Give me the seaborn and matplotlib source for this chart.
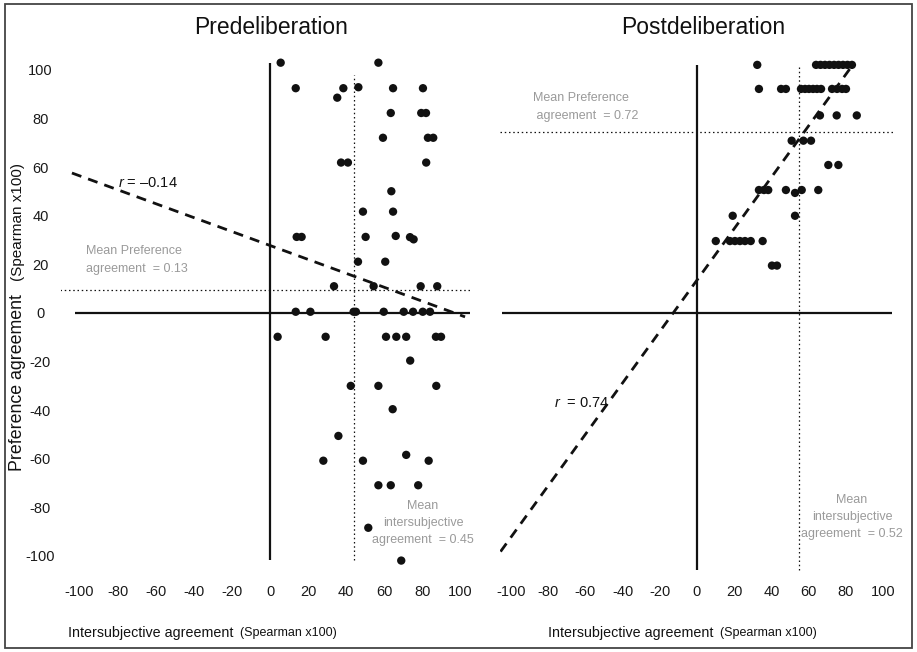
import numpy as np
import pandas as pd
import matplotlib
matplotlib.use("Agg")
import matplotlib.pyplot as plt
from matplotlib.patches import Rectangle
import seaborn as sns

# ---------------- data ----------------
pre_x = [5.6, 56.9, 13.5, 38.5, 46.4, 64.6, 80.3, 35.3, 63.4, 79.4, 81.9, 59.3,
         82.9, 85.7, 37.3, 40.9, 82.0, 63.7, 48.8, 64.6, 14.0, 16.6, 50.2, 66.0,
         73.5, 75.4, 46.2, 60.5, 33.6, 54.4, 79.1, 87.8,
         13.5, 21.2, 43.9, 45.1, 59.7, 70.2, 75.1, 80.2, 84.0,
         4.0, 29.2, 60.9, 66.3, 71.5, 87.1, 89.8,
         73.6, 42.4, 56.9, 87.3, 64.4, 35.9, 71.5, 28.0, 48.8, 83.3,
         56.9, 63.4, 77.8, 51.6, 68.9]
pre_y = [103, 103, 92.5, 92.5, 92.9, 92.5, 92.5, 88.6, 82.3, 82.3, 82.3, 72.1,
         72.1, 72.1, 61.9, 61.9, 61.9, 50.1, 41.7, 41.7, 31.3, 31.3, 31.3, 31.7,
         31.2, 30.3, 21.1, 21.1, 11.0, 11.0, 11.0, 11.0,
         0.5, 0.5, 0.5, 0.5, 0.5, 0.5, 0.5, 0.5, 0.5,
         -9.8, -9.8, -9.8, -9.8, -9.8, -9.8, -9.8,
         -19.6, -30.0, -30.0, -30.0, -39.6, -50.6, -58.4, -60.8, -60.8, -60.8,
         -70.9, -70.9, -70.9, -88.4, -101.9]

post_x = [32.4, 64.0, 66.4, 68.8, 71.2, 73.7, 76.1, 78.5, 80.9, 83.3,
          33.3, 45.2, 47.8, 55.9, 58.1, 60.2, 62.4, 64.5, 66.7, 72.6, 75.3, 78.0, 80.1,
          66.1, 75.1, 85.9,
          50.9, 57.2, 61.3,
          70.6, 76.0,
          33.3, 36.0, 38.3, 47.8, 52.7, 56.3, 65.2,
          19.2, 52.7,
          10.1, 17.7, 20.4, 23.1, 25.8, 28.9, 35.3,
          40.3, 43.0]
post_y = [102.1] * 10 + [92.2] * 13 + [81.3] * 3 + [70.9] * 3 + [60.9] * 2 + \
         [50.6, 50.6, 50.6, 50.6, 49.4, 50.6, 50.6] + [40.0] * 2 + [29.6] * 7 + [19.5] * 2

pre_fit_x = [-104.0, 102.4]
pre_fit_y = [57.6, -1.6]
post_fit_x = [-105.6, 82.3]
post_fit_y = [-98.2, 100.6]

pre_mean_x, pre_mean_y = 43.9, 9.5
post_mean_x, post_mean_y = 54.6, 74.6

tick_vals = list(range(-100, 101, 20))
tick_labels = [str(v) for v in tick_vals]

titles = ["Predeliberation", "Postdeliberation"]

# ---------------- style ----------------
sns.set_theme(style="white")
NARROW = ["Liberation Sans Narrow", "Liberation Sans", "DejaVu Sans"]
plt.rcParams["font.family"] = NARROW
plt.rcParams["mathtext.fontset"] = "custom"
plt.rcParams["mathtext.it"] = "Liberation Sans:italic"
plt.rcParams["mathtext.rm"] = "Liberation Sans"

W, H = 917, 652
fig = plt.figure(figsize=(W / 100, H / 100), dpi=100)
fig.patch.set_facecolor("white")


def rect(px0, px1, py_top, py_bot):
    return [px0 / W, (H - py_bot) / H, (px1 - px0) / W, (py_bot - py_top) / H]


ax1 = fig.add_axes(rect(60.5, 470.0, 55.4, 575.4))
ax2 = fig.add_axes(rect(499.8, 895.1, 55.4, 575.4))
ax1.set_xlim(-110, 105)
ax2.set_xlim(-106, 106.5)
for ax in (ax1, ax2):
    ax.set_ylim(-108, 106)
    for s in ax.spines.values():
        s.set_visible(False)
    ax.set_facecolor("none")
    ax.set_xticks(tick_vals, tick_labels)
    ax.tick_params(axis="x", length=0, pad=7, labelsize=10.5, colors="#1a1a1a")
    ax.grid(False)

ax1.set_yticks(tick_vals, tick_labels)
for lbl in ax1.get_yticklabels():
    lbl.set_horizontalalignment("center")
ax1.tick_params(axis="y", length=0, pad=14.5, labelsize=10.5, colors="#1a1a1a")
ax2.set_yticks([])

axis_kw = dict(color="#111111", lw=1.6, zorder=1)
dot_kw = dict(color="#111111", lw=0.9, linestyles=(0, (1.2, 2.2)), zorder=1)
dash_kw = dict(color="#111111", lw=2.0, linestyle=(0, (3.6, 2.6)), zorder=3)

# left panel
ax1.vlines(0, -101.6, 103, **axis_kw)
ax1.hlines(0, -102.4, 105, **axis_kw)
ax1.hlines(pre_mean_y, -110, 105, **dot_kw)
ax1.vlines(pre_mean_x, -101.6, 98, **dot_kw)
sns.scatterplot(x=pre_x, y=pre_y, ax=ax1, color="#111111", s=36,
                edgecolor="none", linewidth=0, zorder=4)
ax1.plot(pre_fit_x, pre_fit_y, **dash_kw)

# right panel
ax2.vlines(0, -105.8, 102, **axis_kw)
ax2.hlines(0, -104.8, 104.8, **axis_kw)
ax2.hlines(post_mean_y, -106, 106.5, **dot_kw)
ax2.vlines(post_mean_x, -105.8, 102, **dot_kw)
sns.scatterplot(x=post_x, y=post_y, ax=ax2, color="#111111", s=36,
                edgecolor="none", linewidth=0, zorder=4)
ax2.plot(post_fit_x, post_fit_y, **dash_kw)

gray = "#9a9a9a"
ax1.text(-79.8, 53.5, "$r$ = \u20130.14", fontsize=10.5, color="#111111",
         ha="left", va="center")
ax1.text(-96.6, 21.8, "Mean Preference\nagreement  = 0.13", fontsize=9,
         color=gray, ha="left", va="center", linespacing=1.6)
ax1.text(80.3, -86.4, "Mean\nintersubjective\nagreement  = 0.45", fontsize=9,
         color=gray, ha="center", va="center", linespacing=1.6)

ax2.text(-88.2, 84.6, "Mean Preference\n agreement  = 0.72", fontsize=9,
         color=gray, ha="left", va="center", linespacing=1.65)
ax2.text(-76.9, -36.9, "$r$  = 0.74", fontsize=10.5, color="#111111",
         ha="left", va="center")
ax2.text(83.3, -84.0, "Mean\nintersubjective\nagreement  = 0.52", fontsize=9,
         color=gray, ha="center", va="center", linespacing=1.6)

# titles
fig.text(271 / W, 1 - 28 / H, titles[0], fontsize=16.5, ha="center", va="center",
         color="#111111")
fig.text(703 / W, 1 - 28 / H, titles[1], fontsize=16.5, ha="center", va="center",
         color="#111111")

# x labels
for main_l, par_l in ((68, 240), (548, 720)):
    fig.text(main_l / W, 1 - 633 / H, "Intersubjective agreement", fontsize=10.3,
             ha="left", va="center", color="#111111")
    fig.text(par_l / W, 1 - 633 / H, "(Spearman x100)", fontsize=9,
             ha="left", va="center", color="#111111")

# y label
REG = ["Liberation Sans", "DejaVu Sans"]
fig.text(18 / W, 1 - 383 / H, "Preference agreement", fontsize=12.8,
         rotation=90, ha="center", va="center", color="#111111", family=REG)
fig.text(18 / W, 1 - 222 / H, "(Spearman x100)", fontsize=11,
         rotation=90, ha="center", va="center", color="#111111", family=REG)

# frame
fig.patches.append(Rectangle((5 / W, 4 / H), 907 / W, 644 / H,
                             transform=fig.transFigure, fill=False,
                             edgecolor="#444444", lw=1.3))

fig.savefig("out.png", dpi=100)
